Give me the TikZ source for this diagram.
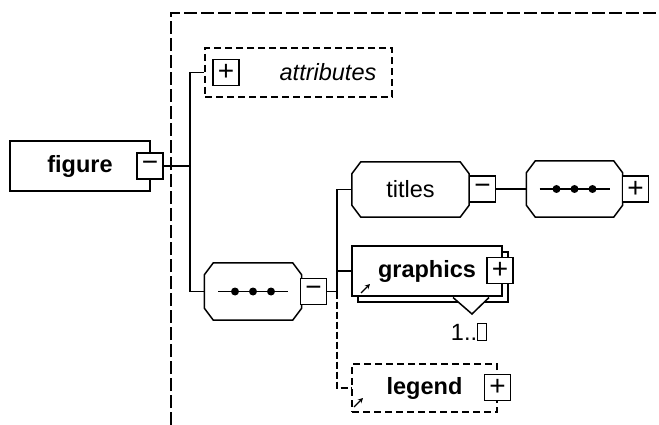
\documentclass[tikz,border=0pt]{standalone}
\usepackage{fontspec}
\setmainfont{Liberation Sans}
\usetikzlibrary{shadows,arrows.meta}

\tikzset{
  elem/.style={draw, fill=white, line width=1.5pt, minimum width=#1, minimum height=50pt, inner sep=0pt},
  optelem/.style={elem=#1, dash pattern=on 7pt off 4pt},
  seq/.style={minimum width=#1, minimum height=56pt, inner sep=0pt},
  pmbox/.style={draw, fill=white, line width=1.4pt, minimum size=26pt, inner sep=0pt, font=\fontsize{28}{28}\selectfont},
  conn/.style={line width=1.5pt},
  reficon/.style={-{Stealth[length=5pt,width=5pt]}, line width=1.2pt},
}

\begin{document}
\fontsize{23.5}{28}\selectfont
\begin{tikzpicture}[x=1pt,y=-1pt]
  \useasboundingbox (0,0) rectangle (659,425);
  % group frame
  \draw[line width=1.8pt, dash pattern=on 13pt off 4pt] (171,425) -- (171,13) -- (659,13);

  % elements
  \node[elem=140pt, font=\bfseries] (figure) at (80,166) {figure};
  \node[optelem=187pt, minimum height=49pt] (attributes) at (298.5,72.5) {};
  \node[font=\itshape] (attrtext) at (328,72) {attributes};
  \node[seq=97pt, minimum height=57pt] (seq1) at (253,291.5) {};
  \node[seq=117pt, minimum height=55pt] (titles) at (410.5,189.5) {titles};
  \node[seq=96pt] (seq2) at (574.5,189) {};
  \node[elem=150pt, font=\bfseries, copy shadow={shadow xshift=6pt, shadow yshift=-6pt}] (graphics) at (427,271) {graphics};
  \node[optelem=145pt, minimum height=48pt, font=\bfseries] (legend) at (424.5,388) {legend};

  % octagon outlines
  \foreach \s in {seq1,titles,seq2}{
    \draw[line width=1.5pt] ([xshift=9pt]\s.north west) -- ([xshift=-9pt]\s.north east)
      -- ([yshift=-12pt]\s.north east) -- ([yshift=12pt]\s.south east)
      -- ([xshift=-9pt]\s.south east) -- ([xshift=9pt]\s.south west)
      -- ([yshift=12pt]\s.south west) -- ([yshift=-12pt]\s.north west) -- cycle;
  }
  % sequence dots
  \foreach \s in {seq1,seq2}{
    \draw[line width=1.3pt] ([xshift=-35pt]\s.center) -- ([xshift=35pt]\s.center);
    \foreach \d in {-18,0,18}
      \fill ([xshift=\d pt]\s.center) circle (4pt);
  }

  % connectors
  \coordinate (trunkA) at (190,72.5);
  \coordinate (trunkB) at (337,189.5);
  \node[pmbox] (figminus) at (150,166) {−};
  \node[pmbox] (attrplus) at (226,72.5) {+};
  \node[pmbox] (seq1minus) at (313.5,291.5) {−};
  \node[pmbox] (titlesminus) at (482.5,189) {−};
  \node[pmbox] (seq2plus) at (635.5,189) {+};
  \node[pmbox] (graphplus) at (500,270.5) {+};
  \node[pmbox] (legendplus) at (497.5,387.5) {+};
  \draw[conn] (figminus.east) -- (figminus.east -| trunkA);
  \draw[conn] (attributes.west) -- (trunkA) |- (seq1.west);
  \draw[conn] (titles.west) -| (trunkB |- seq1minus.east) -- (seq1minus.east);
  \draw[conn] (graphics.west) -- (graphics.west -| trunkB);
  \draw[conn, dash pattern=on 7pt off 3pt] (seq1minus.east -| trunkB) |- (legend.west);
  \draw[conn] (titlesminus.east) -- (seq2.west);

  % occurrence 1..unbounded
  \fill[white] (453,297.5) -- (472,314) -- (489,297.5) -- cycle;
  \draw[conn] (453,297.5) -- (472,314) -- (489,297.5);
  \node (occurs) at (469,332) {1..{\fboxsep=0pt\fboxrule=1pt\fbox{\rule{0pt}{16pt}\hspace{8pt}}}};

  % reference marks
  \draw[reficon] (361,293) -- (370,284);
  \draw[reficon] (354,407) -- (363,398);
\end{tikzpicture}
\end{document}
